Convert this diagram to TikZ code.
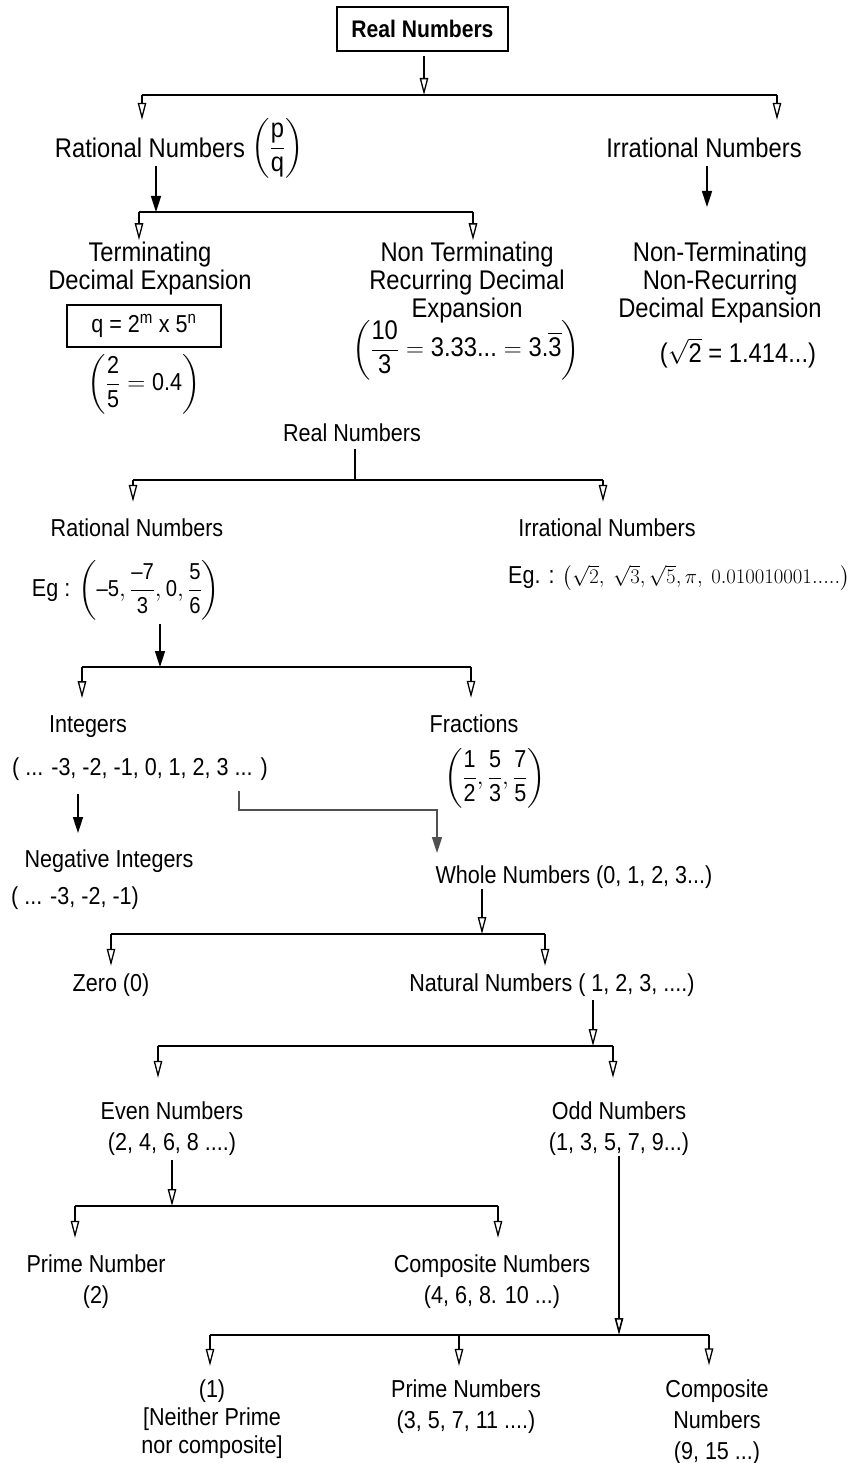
\documentclass[tikz,border=0pt]{standalone}
\usepackage{amsmath}
\usepackage[no-math]{fontspec}
\setmainfont{Liberation Sans}[FakeStretch=0.88]
\usetikzlibrary{positioning,arrows.meta}
\definecolor{ElbowGray}{RGB}{80,80,80}
\newcommand{\topfont}{\fontsize{27}{28}\selectfont}
\newcommand{\lowfont}{\fontsize{24.5}{31}\selectfont}
\newcommand{\tfr}[2]{\dfrac{\text{#1}}{\text{#2}}}
\tikzset{>={Triangle[open,length=17pt,width=8.5pt]}}
\tikzset{toplabel/.style={font=\topfont,align=center,inner sep=0pt}}
\tikzset{lowlabel/.style={font=\lowfont,align=center,inner sep=0pt}}
\tikzset{mybus/.style={line width=2pt}}
\tikzset{myarrow/.style={->,line width=1.3pt}}
\tikzset{myfarrow/.style={-{Triangle[length=16pt,width=10pt]},line width=1.6pt}}

\begin{document}
\begin{tikzpicture}[x=1pt,y=-1pt]
\useasboundingbox (0,0) rectangle (851,1463);
% upper chart
\node[draw,line width=2.2pt,minimum width=171pt,minimum height=44pt,inner sep=0pt,font=\bfseries\fontsize{24}{24}\selectfont] (real1) at (422.5,29) {Real Numbers};
\node[toplabel] (rat1) at (150,148) {Rational Numbers};
\node[toplabel,right=6pt of rat1] (ratpq) {$\left(\tfr{p}{q}\right)$};
\node[toplabel] (irr1) at (704,148) {Irrational Numbers};
\node[toplabel] (term) at (150,269) {Terminating\\Decimal Expansion};
\node[draw,line width=1.8pt,minimum width=154pt,minimum height=42pt,inner sep=0pt,font=\fontsize{24.5}{25}\selectfont] (qbox) at (144,326) {q = 2\textsuperscript{m} x 5\textsuperscript{n}};
\node[lowlabel] (ex1) at (144,384) {$\left(\tfr{2}{5}=\text{0.4}\right)$};
\node[toplabel] (nonterm) at (467,283) {Non Terminating\\Recurring Decimal\\Expansion};
\node[toplabel] (ex2) at (466,350) {$\left(\tfr{10}{3} = \text{3.33...} = \text{3.}\overline{\text{3}}\right)$};
\node[toplabel] (nonrec) at (720,283) {Non-Terminating\\Non-Recurring\\Decimal Expansion};
\node[toplabel] (ex3) at (738,353) {($\sqrt{\text{2}}$ = 1.414...)};

\coordinate (s1) at (424,95);
\coordinate (s1l) at (142,95);
\coordinate (s1r) at (777,95);
\coordinate (s2) at (156,212);
\coordinate (s2l) at (139,212);
\coordinate (s2r) at (473,212);
\coordinate (irrtip) at (707,207);

\draw[myarrow,shorten <=4pt] (real1.south -| s1) -- (s1);
\draw[mybus] (s1l) -- (s1r);
\draw[myarrow,shorten >=18pt] (s1l) -- (s1l |- rat1.north);
\draw[myarrow,shorten >=18pt] (s1r) -- (s1r |- irr1.north);
\draw[myfarrow,shorten <=8pt] (rat1.south -| s2) -- (s2);
\draw[mybus] (s2l) -- (s2r);
\draw[myarrow,shorten >=2pt] (s2l) -- (s2l |- term.north);
\draw[myarrow,shorten >=2pt] (s2r) -- (s2r |- nonterm.north);
\draw[myfarrow,shorten <=8pt] (irr1.south -| irrtip) -- (irrtip);

% lower chart
\node[lowlabel] (real2) at (352,433) {Real Numbers};
\node[lowlabel] (rat2) at (137,528) {Rational Numbers};
\node[lowlabel] (irr2) at (607,528) {Irrational Numbers};
\node[lowlabel] (eg1) at (126,590) {Eg : {\fontsize{23}{24}\selectfont$\left(\text{–5}, \tfr{–7}{3}, \text{0}, \tfr{5}{6}\right)$}};
\node[lowlabel] (eg2) at (679,578) {Eg. : {\fontsize{21}{24}\selectfont$\left(\sqrt{2},\ \sqrt{3},\sqrt{5},\pi,\ 0.010010001.....\right)$}};
\node[lowlabel] (int) at (88,726.4) {Integers};
\node[lowlabel] (intlist) at (140,769.4) {( ... -3, -2, -1, 0, 1, 2, 3 ... )};
\node[lowlabel] (frac) at (474,724) {Fractions};
\node[lowlabel] (fraclist) at (495,778) {$\left(\tfr{1}{2},\tfr{5}{3},\tfr{7}{5}\right)$};
\node[lowlabel] (neg) at (109,861.4) {Negative Integers};
\node[lowlabel] (neglist) at (75,898.4) {( ... -3, -2, -1)};
\node[lowlabel] (whole) at (574,877.4) {Whole Numbers (0, 1, 2, 3...)};
\node[lowlabel] (zero) at (111,985.4) {Zero (0)};
\node[lowlabel] (nat) at (552,985.4) {Natural Numbers ( 1, 2, 3, ....)};
\node[lowlabel] (even) at (172,1129) {Even Numbers\\(2, 4, 6, 8 ....)};
\node[lowlabel] (odd) at (619,1129) {Odd Numbers\\(1, 3, 5, 7, 9...)};
\node[lowlabel] (prime) at (96,1282) {Prime Number\\(2)};
\node[lowlabel] (comp) at (492,1282) {Composite Numbers\\(4, 6, 8. 10 ...)};
\node[lowlabel,font=\fontsize{24.5}{28}\selectfont] (one) at (212,1419.5) {(1)\\{[}Neither Prime\\nor composite]};
\node[lowlabel] (primes) at (466,1407) {Prime Numbers\\(3, 5, 7, 11 ....)};
\node[lowlabel] (comps) at (717,1422) {Composite\\Numbers\\(9, 15 ...)};

\coordinate (s3) at (355,480);
\coordinate (s3l) at (133,480);
\coordinate (s3r) at (603,480);
\coordinate (s4) at (160,667);
\coordinate (s4l) at (82,667);
\coordinate (s4r) at (471,667);
\coordinate (negtip) at (78,833);
\coordinate (elb1) at (239,810);
\coordinate (elb2) at (437,810);
\coordinate (wholetip) at (437,853);
\coordinate (s5) at (482,934);
\coordinate (s5l) at (111,934);
\coordinate (s5r) at (545,934);
\coordinate (s6) at (593,1046);
\coordinate (s6l) at (158,1046);
\coordinate (s6r) at (613,1046);
\coordinate (s7) at (172,1206);
\coordinate (s7l) at (75,1206);
\coordinate (s7r) at (498,1206);
\coordinate (s8) at (619,1335);
\coordinate (s8l) at (210,1335);
\coordinate (s8m) at (459,1335);
\coordinate (s8r) at (709,1335);

\draw[line width=1.3pt,shorten <=7pt] (real2.south -| s3) -- (s3);
\draw[mybus] (s3l) -- (s3r);
\draw[myarrow,shorten >=17pt] (s3l) -- (s3l |- rat2.north);
\draw[myarrow,shorten >=17pt] (s3r) -- (s3r |- irr2.north);
\draw[myfarrow,shorten <=4pt] (eg1.south -| s4) -- (s4);
\draw[mybus] (s4l) -- (s4r);
\draw[myarrow,shorten >=17pt] (s4l) -- (s4l |- int.north);
\draw[myarrow,shorten >=17pt] (s4r) -- (s4r |- frac.north);
\draw[myfarrow,shorten <=13pt] (intlist.south -| negtip) -- (negtip);
\draw[myfarrow,ElbowGray,shorten <=10pt] (intlist.south -| elb1) -- (elb1) -- (elb2) -- (wholetip);
\draw[myarrow] (whole.south -| s5) -- (s5);
\draw[mybus] (s5l) -- (s5r);
\draw[myarrow,shorten >=8pt] (s5l) -- (s5l |- zero.north);
\draw[myarrow,shorten >=8pt] (s5r) -- (s5r |- nat.north);
\draw[myarrow,shorten <=3pt] (nat.south -| s6) -- (s6);
\draw[mybus] (s6l) -- (s6r);
\draw[myarrow,shorten >=24pt] (s6l) -- (s6l |- even.north);
\draw[myarrow,shorten >=24pt] (s6r) -- (s6r |- odd.north);
\draw[myarrow,shorten <=4pt] (even.south -| s7) -- (s7);
\draw[mybus] (s7l) -- (s7r);
\draw[myarrow,shorten >=17pt] (s7l) -- (s7l |- prime.north);
\draw[myarrow,shorten >=17pt] (s7r) -- (s7r |- comp.north);
\draw[myarrow,line width=1.6pt] (odd.south -| s8) -- (s8);
\draw[mybus] (s8l) -- (s8r);
\draw[myarrow,shorten >=14pt] (s8l) -- (s8l |- one.north);
\draw[myarrow,shorten >=14pt] (s8m) -- (s8m |- primes.north);
\draw[myarrow,shorten >=14pt] (s8r) -- (s8r |- comps.north);
\end{tikzpicture}
\end{document}
